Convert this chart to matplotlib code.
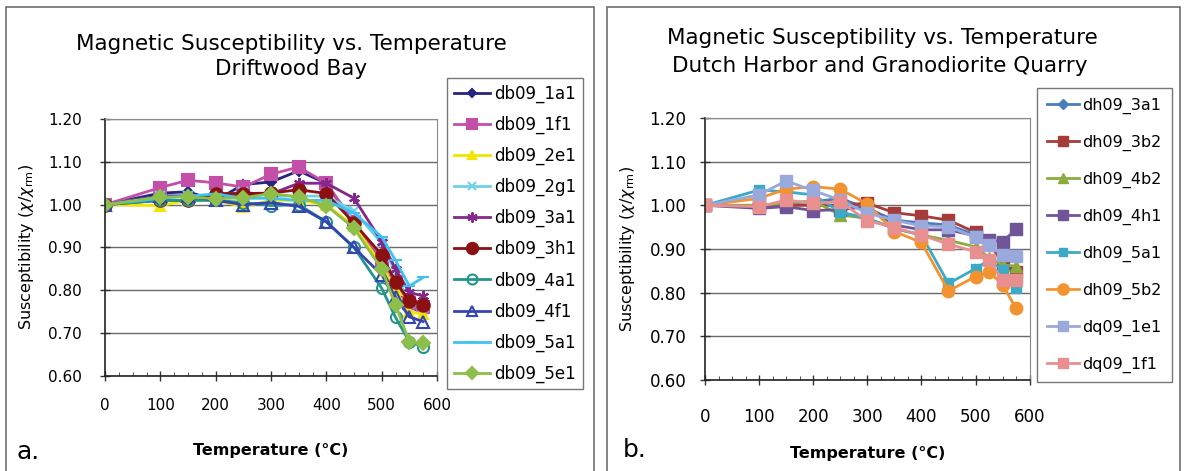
import matplotlib
matplotlib.use("Agg")
import matplotlib.pyplot as plt
from matplotlib.patches import Rectangle
from matplotlib.ticker import MultipleLocator

plt.rcParams['font.family'] = ['DejaVu Sans']
plt.rcParams['mathtext.fontset'] = 'dejavusans'

# Temperaturas (°C)
temps = [0, 100, 150, 200, 250, 300, 350, 400, 450, 500, 525, 550, 575]

# Driftwood Bay
db09_1a1 = [1.00, 1.027, 1.030, 1.010, 1.047, 1.053, 1.079, 1.050, 0.955, 0.860, 0.800, 0.760, 0.750]
db09_1f1 = [1.00, 1.040, 1.057, 1.051, 1.041, 1.071, 1.088, 1.050, 0.960, 0.870, 0.820, 0.770, 0.760]
db09_2e1 = [1.00, 0.998, 1.010, 1.010, 0.995, 1.010, 1.010, 1.000, 0.950, 0.860, 0.800, 0.750, 0.745]
db09_2g1 = [1.00, 1.020, 1.020, 1.020, 1.030, 1.020, 1.020, 1.020, 0.985, 0.910, 0.840, 0.770, 0.760]
db09_3a1 = [1.00, 1.020, 1.020, 1.020, 1.020, 1.025, 1.050, 1.050, 1.015, 0.914, 0.850, 0.795, 0.787]
db09_3h1 = [1.00, 1.010, 1.010, 1.026, 1.026, 1.027, 1.035, 1.026, 0.957, 0.883, 0.820, 0.776, 0.766]
db09_4a1 = [1.00, 1.010, 1.010, 1.010, 1.005, 0.998, 1.000, 0.960, 0.900, 0.805, 0.737, 0.680, 0.668]
db09_4f1 = [1.00, 1.020, 1.020, 1.010, 1.000, 1.005, 0.996, 0.960, 0.900, 0.836, 0.785, 0.738, 0.727]
db09_5a1 = [1.00, 1.015, 1.020, 1.025, 1.015, 1.015, 1.010, 1.010, 0.980, 0.925, 0.870, 0.810, 0.830]
db09_5e1 = [1.00, 1.018, 1.018, 1.014, 1.016, 1.026, 1.018, 0.998, 0.945, 0.850, 0.766, 0.680, 0.676]

# Dutch Harbor / Granodiorite Quarry
dh09_3a1 = [1.00, 0.997, 1.005, 1.008, 1.016, 0.993, 0.966, 0.960, 0.955, 0.932, 0.920, 0.867, 0.845]
dh09_3b2 = [1.00, 1.000, 1.000, 1.000, 1.000, 1.005, 0.983, 0.976, 0.966, 0.938, 0.915, 0.867, 0.848]
dh09_4b2 = [1.00, 1.000, 1.005, 1.010, 0.978, 0.970, 0.947, 0.932, 0.920, 0.905, 0.880, 0.863, 0.861]
dh09_4h1 = [1.00, 0.993, 0.997, 0.988, 0.990, 0.997, 0.955, 0.944, 0.944, 0.930, 0.920, 0.917, 0.945]
dh09_5a1 = [1.00, 1.035, 1.031, 1.024, 0.985, 0.970, 0.947, 0.932, 0.821, 0.855, 0.875, 0.852, 0.810]
dh09_5b2 = [1.00, 1.016, 1.037, 1.043, 1.037, 1.003, 0.940, 0.915, 0.804, 0.837, 0.848, 0.818, 0.764]
dq09_1e1 = [1.00, 1.024, 1.056, 1.034, 1.012, 0.982, 0.966, 0.953, 0.951, 0.927, 0.909, 0.886, 0.885]
dq09_1f1 = [1.00, 0.997, 1.012, 1.005, 1.008, 0.965, 0.949, 0.932, 0.911, 0.894, 0.875, 0.829, 0.829]

esquerda = [
    ("db09_1a1", db09_1a1, "#25247f", "D", 5, True),
    ("db09_1f1", db09_1f1, "#c34fa9", "s", 8, True),
    ("db09_2e1", db09_2e1, "#f2e600", "^", 7, True),
    ("db09_2g1", db09_2g1, "#71d0e8", "x", 7, True),
    ("db09_3a1", db09_3a1, "#85268a", (6, 2, 0), 8, True),
    ("db09_3h1", db09_3h1, "#8a1012", "o", 9, True),
    ("db09_4a1", db09_4a1, "#23968c", "o", 8, False),
    ("db09_4f1", db09_4f1, "#3444b0", "^", 8, False),
    ("db09_5a1", db09_5a1, "#3dc2f2", "_", 8, True),
    ("db09_5e1", db09_5e1, "#8dbf4a", "D", 7, True),
]

direita = [
    ("dh09_3a1", dh09_3a1, "#4a7ebb", "D", 6),
    ("dh09_3b2", dh09_3b2, "#a63c3a", "s", 8),
    ("dh09_4b2", dh09_4b2, "#8bab3e", "^", 8),
    ("dh09_4h1", dh09_4h1, "#6f5598", "s", 8),
    ("dh09_5a1", dh09_5a1, "#3caac6", "s", 7),
    ("dh09_5b2", dh09_5b2, "#f39330", "o", 9),
    ("dq09_1e1", dq09_1e1, "#9aa9dc", "s", 8),
    ("dq09_1f1", dq09_1f1, "#e89090", "s", 8),
]

W, H = 1184, 471
fig = plt.figure(figsize=(W / 100, H / 100), dpi=100)

# molduras dos paineis
for x0, x1 in [(6, 594), (607, 1180)]:
    fig.patches.append(Rectangle((x0 / W, -0.05), (x1 - x0) / W, 1.05 - 7 / H,
                                 transform=fig.transFigure, fill=False,
                                 edgecolor="#6e6e6e", linewidth=1.2))


def montar(ax, tam, ypad, xpad, xlpad):
    ax.set_xlim(0, 600)
    ax.set_ylim(0.60, 1.20)
    ax.xaxis.set_major_locator(MultipleLocator(100))
    ax.xaxis.set_minor_locator(MultipleLocator(25))
    ax.yaxis.set_major_locator(MultipleLocator(0.1))
    ax.set_yticklabels([f"{v:.2f}" for v in ax.get_yticks()])
    ax.grid(axis="y", color="#6a6a6a", linewidth=1.0)
    ax.set_axisbelow(True)
    ax.tick_params(axis="both", which="major", direction="inout", length=7,
                   labelsize=tam, color="#333333", width=1)
    ax.tick_params(axis="x", which="minor", direction="in", length=3, color="#333333")
    ax.tick_params(axis="x", pad=xpad)
    ax.tick_params(axis="y", pad=ypad)
    for s in ["top", "right"]:
        ax.spines[s].set_color("#8a8a8a")
    for s in ["left", "bottom"]:
        ax.spines[s].set_color("#222222")
        ax.spines[s].set_linewidth(1.2)
    ax.set_xlabel("Temperature (°C)", fontsize=11.5, fontweight="bold", labelpad=xlpad)
    ax.set_ylabel(r"Susceptibility ($\chi/\chi_{\rm rm}$)", fontsize=11.5, labelpad=9)


# painel a
ax1 = fig.add_axes([105 / W, 1 - 376 / H, (437 - 105) / W, (376 - 119) / H])
for nome, vals, cor, mk, ms, cheio in esquerda:
    ax1.plot(temps, vals, color=cor, marker=mk, markersize=ms, linewidth=2,
             markerfacecolor=cor if cheio else "none", markeredgecolor=cor,
             markeredgewidth=1.5, label=nome)
montar(ax1, 11, 13, 12, 22)
fig.text(291 / W, 1 - 44 / H, "Magnetic Susceptibility vs. Temperature",
         ha="center", va="center", fontsize=15.5)
fig.text(291 / W, 1 - 69 / H, "Driftwood Bay",
         ha="center", va="center", fontsize=15.5)
fig.legend(*ax1.get_legend_handles_labels(), loc="upper left",
           bbox_to_anchor=(447 / W, 1 - 78 / H), borderaxespad=0, fontsize=12,
           frameon=True, fancybox=False, edgecolor="#555555", labelspacing=0.77,
           handlelength=2.2, handletextpad=0.25, borderpad=0.4, markerscale=0.9)
fig.text(17 / W, 1 - 452 / H, "a.", fontsize=18, va="center")

# painel b
ax2 = fig.add_axes([705 / W, 1 - 380 / H, (1029.6 - 705) / W, (380 - 118) / H])
for nome, vals, cor, mk, ms in direita:
    ax2.plot(temps, vals, color=cor, marker=mk, markersize=ms, linewidth=2,
             markerfacecolor=cor, markeredgecolor=cor, label=nome)
montar(ax2, 12, 10, 17, 14)
fig.text(882 / W, 1 - 38 / H, "Magnetic Susceptibility vs. Temperature",
         ha="center", va="center", fontsize=15.5)
fig.text(880 / W, 1 - 66 / H, "Dutch Harbor and Granodiorite Quarry",
         ha="center", va="center", fontsize=15.5)
fig.legend(*ax2.get_legend_handles_labels(), loc="upper left",
           bbox_to_anchor=(1037 / W, 1 - 88 / H), borderaxespad=0, fontsize=11.5,
           frameon=True, fancybox=False, edgecolor="#555555", labelspacing=1.3,
           handlelength=2.0, handletextpad=0.25, borderpad=0.6, markerscale=0.9)
fig.text(623 / W, 1 - 450 / H, "b.", fontsize=18, va="center")

plt.savefig("out.png", dpi=100)
